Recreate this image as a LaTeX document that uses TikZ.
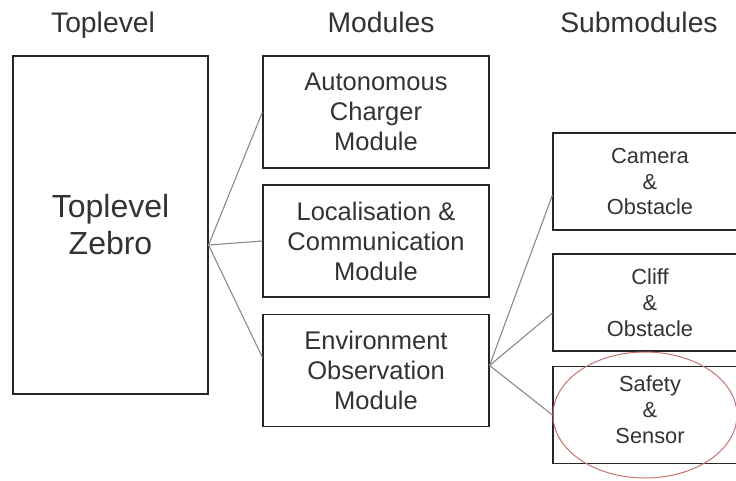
\documentclass[tikz,border=0pt]{standalone}
\usepackage{fontspec}
\setmainfont{Liberation Sans}
\usetikzlibrary{calc}
\definecolor{inkline}{HTML}{262626}
\definecolor{inktext}{HTML}{333333}
\definecolor{wire}{HTML}{8A8A8A}
\definecolor{ring}{HTML}{C9716E}
\tikzset{
  block/.style={draw=inkline, line width=1.1pt, fill=white, inner sep=0pt,
    align=center, text=inktext},
  modbox/.style={block, minimum width=226pt, minimum height=112pt,
    font=\fontsize{25.5}{30}\selectfont},
  subbox/.style={block, minimum width=194pt, minimum height=97pt,
    font=\fontsize{21.8}{25.8}\selectfont},
  heading/.style={text=inktext, inner sep=0pt, anchor=base,
    font=\fontsize{28.3}{32}\selectfont},
  conn/.style={draw=wire, line width=1.1pt},
  marker/.style={draw=ring, line width=1pt}
}
\begin{document}
\begin{tikzpicture}[x=1pt,y=-1pt]
  \useasboundingbox (0,0) rectangle (736,480);
  \clip (0,0) rectangle (736,480);

  % column headings
  \node[heading] (hTop) at (103,32) {Toplevel};
  \node[heading] (hMod) at (381,32) {Modules};
  \node[heading] (hSub) at (639,32) {Submodules};

  % toplevel
  \node[block, minimum width=195pt, minimum height=338pt,
        font=\fontsize{32}{37}\selectfont] (top) at (110.5,225) {Toplevel\\Zebro};

  % modules
  \node[modbox] (m1) at (376,112) {Autonomous\\Charger\\Module};
  \node[modbox] (m2) at (376,241) {Localisation \&\\Communication\\Module};
  \node[modbox] (m3) at (376,370.5) {Environment\\Observation\\Module};

  % submodules
  \node[subbox] (s1) at (650,181.5) {Camera\\\&\\Obstacle};
  \node[subbox] (s2) at (650,302.5) {Cliff\\\&\\Obstacle};
  \node[subbox, text height=60pt, text depth=4pt] (s3) at (650,415) {Safety\\\&\\Sensor};

  % connectors
  \coordinate (tz) at ([yshift=-20pt]top.east);
  \coordinate (eo) at ([yshift=5pt]m3.east);
  \draw[conn] (tz) -- (m1.west);
  \draw[conn] (tz) -- (m2.west);
  \draw[conn] (tz) -- ([yshift=13pt]m3.west);
  \draw[conn] (eo) -- ([yshift=-13.5pt]s1.west);
  \draw[conn] (eo) -- ([yshift=-10.5pt]s2.west);
  \draw[conn] (eo) -- (s3.west);

  % highlight round the safety submodule
  \draw[marker] (645,415) ellipse [x radius=92pt, y radius=63pt];
\end{tikzpicture}
\end{document}
